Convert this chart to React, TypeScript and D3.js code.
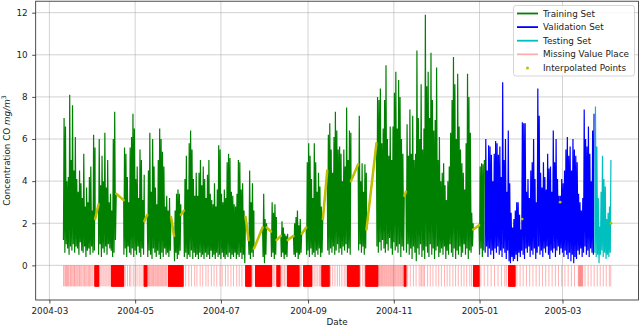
import * as d3 from 'd3';
import { useEffect, useRef } from 'react';

// hourly CO record, first and last timestamps
const FIRST_RECORD = Date.UTC(2004, 2, 10, 18);
const LAST_RECORD = Date.UTC(2005, 3, 4, 14);
const DAY_MS = 864e5;

// day offsets (from FIRST_RECORD) where each split begins
const trainStartDay = 0;
const valStartDay = 300;
const testStartDay = 378;

// daily peak / daily trough of CO (mg/m3); null = day fully interpolated
const trainHigh = [
  7.0, 6.6, 4.0, 4.2, 8.1, 5.0, 7.6, 4.5, 6.1, 4.1,
  3.5, 4.5, 3.9, 3.2, 5.3, 2.8, 3.7, 3.0, 4.2, 4.7,
  2.6, 6.2, 5.6, null, null, 6.0, 3.8, 5.2, 4.0, 6.3,
  3.7, 5.0, 3.0, 3.4, 2.6, 6.0, 7.3, 3.0, null, null,
  null, null, null, 5.6, 5.3, 4.2, 3.0, 5.6, 6.1, 7.2,
  6.5, 4.1, 4.7, 3.2, 5.5, 5.0, 3.1, 4.3, null, null,
  4.5, 6.3, 3.5, 6.0, 4.7, 3.7, 2.9, 5.0, 6.5, 6.0,
  5.4, 4.7, 2.8, 3.3, 2.6, 3.2, 2.2, null, null, 2.6,
  3.4, 3.6, 3.4, 2.9, null, null, 4.1, 5.2, 3.6, 5.8,
  6.4, 5.5, 4.1, 3.3, 4.4, 3.3, 4.4, 5.0, 3.8, 4.7,
  4.1, 3.2, 4.3, 5.0, 3.4, 3.1, 2.9, 3.9, 2.8, 3.6,
  5.7, 5.5, 3.4, 3.0, 3.6, 3.2, 4.9, 5.3, 5.1, 3.5,
  3.3, 2.9, 2.8, 3.4, 5.0, 4.9, 3.6, 3.9, 2.6, 2.2,
  null, null, 4.5, 3.0, 3.9, 2.6, null, null, null, null,
  null, null, 3.4, 2.2, 2.0, null, null, null, 3.0, 2.5,
  2.9, 2.3, null, null, null, 2.1, 1.8, 1.5, 1.4, 1.5,
  null, null, null, null, 2.0, 2.3, 2.6, 1.9, 2.2, 1.5,
  null, null, null, 4.9, 5.8, 5.2, 4.1, 3.2, 5.8, 4.9,
  3.5, 4.4, 3.75, 2.8, 2.2, null, null, null, 6.2, 6.75,
  5.5, 4.4, 6.1, 7.3, 6.4, 5.5, 5.65, 5.3, 4.0, 5.5,
  4.7, 7.5, 5.0, 6.4, 6.3, null, null, null, null, null,
  7.1, 4.0, 4.85, 3.5, 4.8, 4.4, null, null, null, null,
  null, null, null, 8.0, 7.85, 8.4, 5.8, 6.5, 7.85, 9.5,
  6.0, 5.2, 6.6, 5.0, 6.6, 8.2, 9.2, 6.5, 8.8, 8.0,
  6.0, 5.3, 3.3, null, 6.7, 5.2, 7.4, 5.3, 7.1, 5.0,
  5.3, 10.2, 7.0, 6.0, 8.6, 5.5, 6.5, 11.9, 8.5, 9.2,
  7.0, 10.1, 7.85, 6.4, 6.9, 9.4, 5.0, 6.1, 4.0, 4.4,
  4.85, 3.8, 3.1, 4.0, 4.7, 6.3, 7.85, 9.9, 8.6, 6.0,
  9.1, 6.6, 5.5, 4.85, 4.4, 3.6, 5.8, 9.1, 8.0, 6.3,
  2.5, 2.0, null, null, null, null, 4.7, 4.85, 4.8, 5.0,
];
const trainLow = [
  1.2, 0.6, 1.0, 0.8, 0.5, 0.9, 0.7, 1.0, 0.6, 0.9,
  0.8, 0.5, 1.1, 0.7, 0.6, 0.9, 0.4, 0.7, 0.8, 0.5,
  0.9, 0.6, 0.7, null, null, 0.5, 1.0, 0.4, 0.8, 0.6,
  0.9, 0.5, 1.0, 0.8, 0.7, 0.4, 0.6, 1.2, null, null,
  null, null, null, 0.5, 0.8, 0.4, 0.9, 0.6, 0.5, 0.8,
  0.4, 0.7, 0.5, 0.9, 0.6, 0.4, 0.8, 0.5, null, null,
  0.4, 0.7, 0.5, 0.3, 0.8, 0.6, 0.4, 0.7, 0.5, 0.3,
  0.6, 0.4, 0.8, 0.5, 0.6, 0.4, 0.7, null, null, 0.2,
  0.6, 0.3, 0.5, 0.7, null, null, 0.4, 0.6, 0.3, 0.5,
  0.4, 0.7, 0.3, 0.6, 0.4, 0.5, 0.3, 0.6, 0.4, 0.5,
  0.3, 0.6, 0.4, 0.5, 0.3, 0.7, 0.4, 0.5, 0.3, 0.6,
  0.4, 0.5, 0.3, 0.6, 0.4, 0.3, 0.5, 0.4, 0.6, 0.3,
  0.5, 0.4, 0.6, 0.3, 0.5, 0.4, 0.6, 0.3, 0.5, 0.1,
  null, null, 0.5, 0.3, 0.6, 0.4, null, null, null, null,
  null, null, 0.4, 0.1, 0.5, null, null, null, 0.4, 0.6,
  0.3, 0.5, null, null, null, 0.4, 0.6, 0.3, 0.5, 0.4,
  null, null, null, null, 0.5, 0.4, 0.6, 0.3, 0.5, 0.6,
  null, null, null, 0.5, 0.7, 0.4, 0.8, 0.5, 0.6, 0.4,
  0.7, 0.5, 0.8, 0.4, 0.6, null, null, null, 0.7, 0.5,
  0.8, 0.6, 0.9, 0.5, 0.7, 1.0, 0.6, 0.8, 0.5, 0.9,
  0.7, 1.0, 0.6, 0.8, 0.5, null, null, null, null, null,
  0.7, 1.0, 0.6, 0.9, 0.5, 0.8, null, null, null, null,
  null, null, null, 0.9, 0.6, 1.1, 0.7, 1.2, 0.8, 0.6,
  1.0, 0.7, 1.3, 0.8, 0.5, 1.1, 0.7, 0.9, 0.6, 1.0,
  0.4, 0.9, 0.7, null, 0.6, 1.0, 0.5, 0.8, 0.3, 0.9,
  0.6, 0.2, 0.8, 0.5, 1.0, 0.4, 0.7, 0.3, 0.9, 0.6,
  0.4, 1.0, 0.5, 0.8, 0.3, 0.7, 0.9, 0.4, 0.6, 0.8,
  0.5, 0.9, 0.3, 0.7, 0.5, 1.0, 0.6, 0.4, 0.8, 0.3,
  0.7, 0.5, 0.9, 0.4, 0.6, 1.0, 0.5, 0.8, 0.3, 0.7,
  0.6, 0.9, null, null, null, null, 0.5, 0.8, 0.4, 0.7,
];
const valHigh = [
  6.0, 4.5, 5.7, 5.65, 5.25, 4.0, 5.3, 5.9, 5.8, 5.25,
  5.65, 4.2, 8.7, 5.0, 6.0, 3.5, 6.4, 3.9, 2.5, 1.8,
  2.2, 2.6, 3.0, 3.0, 2.4, 1.7, 6.8, 6.75, 6.75, 3.5,
  4.1, 3.2, 4.5, 4.9, 6.0, 4.1, 3.0, 8.4, 7.1, 4.4,
  3.7, 4.9, 4.2, 3.6, 5.3, 4.6, 4.7, 3.5, 6.4, 4.9,
  6.0, 4.1, 3.3, 3.3, 4.1, 3.9, 4.5, 5.5, 6.1, 5.2,
  5.65, 4.5, 6.0, 5.5, 5.2, 4.9, 3.4, 3.0, 2.6, 3.2,
  7.4, 6.0, 5.65, 6.6, 5.3, 4.0, 6.4, 7.2,
];
const valLow = [
  0.6, 0.9, 0.4, 0.8, 0.5, 0.7, 0.3, 0.8, 0.6, 0.9,
  0.5, 0.7, 0.4, 0.8, 0.6, 0.3, 0.7, 0.2, 0.1, 0.4,
  0.2, 0.3, 0.5, 0.2, 0.6, 0.4, 0.7, 0.5, 0.3, 0.8,
  0.6, 0.9, 0.4, 0.7, 0.5, 0.8, 0.3, 0.6, 0.9, 0.5,
  0.7, 0.4, 0.8, 0.6, 0.9, 0.5, 0.3, 0.7, 0.6, 0.8,
  0.4, 0.7, 0.9, 0.5, 0.8, 0.6, 0.4, 0.7, 0.5, 0.3,
  0.6, 0.2, 0.5, 0.1, 0.4, 0.3, 0.7, 0.5, 0.8, 0.4,
  0.6, 0.9, 0.5, 0.7, 0.4, 0.8, 0.6, 0.5,
];
const testHigh = [7.55, 5.65, 3.2, 1.85, 3.5, 5.2, 4.1, 3.75, 2.2, 2.5, 2.8, 5.0];
const testLow = [0.6, 0.4, 0.5, 0.1, 0.5, 0.7, 0.4, 0.6, 0.3, 0.5, 0.4, 0.6];

// interpolated stretches: [from day, to day, value at start, value at end]
const interpGaps = [
  [22.8, 25.2, 2.2, 2.9],
  [37.8, 43.1, 3.4, 3.1],
  [57.8, 59.9, 2.1, 2.4],
  [76.8, 78.9, 2.3, 1.4],
  [83.8, 85.9, 2.4, 2.6],
  [129.8, 131.9, 2.3, 1.2],
  [135.8, 141.9, 0.8, 1.8],
  [144.8, 147.9, 1.8, 1.6],
  [151.8, 154.9, 1.2, 1.4],
  [159.8, 163.9, 1.2, 1.4],
  [169.8, 172.9, 1.5, 1.8],
  [184.8, 187.9, 2.2, 4.5],
  [204.8, 209.9, 4.0, 4.8],
  [215.8, 222.9, 1.7, 5.8],
  [242.8, 243.9, 3.3, 3.5],
  [291.8, 295.9, 1.7, 1.9],
];
// isolated interpolated hours that stick out of the line: [day, value]
const interpDots = [
  [326.6, 2.2],
  [353.6, 3.0],
  [389.8, 2.0],
];

// long runs of missing hours: [from day, to day]
const missingRuns = [
  [22.5, 25.5], [34.3, 43.2], [57.6, 59.7], [74.8, 85.5],
  [129.8, 133.8], [136.8, 148.5], [152.0, 154.4], [159.6, 167.9],
  [171.0, 177.0], [184.0, 189.4], [202.2, 210.7], [215.3, 224.0],
  [242.6, 244.0], [291.9, 296.0], [316.8, 321.6],
];
// single missing hours (day offsets)
const missingHours = [
  0.3, 1.2, 1.8, 2.4, 3.1, 3.7, 4.3, 5.2, 5.8, 6.5, 7.3, 8.1, 8.6, 9.4, 10.2,
  11.1, 11.7, 12.5, 13.3, 14.2, 15.0, 15.6, 16.4, 17.2, 18.1, 18.8, 19.6, 20.5, 21.3,
  26.2, 27.1, 28.3, 29.2, 30.4, 31.3, 32.5, 33.4,
  44.2, 45.8, 47.3, 48.2, 49.9, 51.3, 52.6, 54.1, 55.4, 56.8,
  60.2, 60.8, 61.5, 62.1, 62.9, 63.6, 64.3, 64.9, 65.7, 66.4, 67.2, 67.8, 68.5,
  69.3, 70.0, 70.7, 71.4, 72.2, 72.9, 73.5,
  87.2, 89.4, 91.3, 93.6, 95.2, 97.5, 99.3, 101.6, 103.2, 105.5, 107.4, 109.3,
  111.6, 113.2, 115.5, 117.3, 119.4, 121.2, 123.5, 125.3, 127.2,
  134.9, 149.5, 150.6, 155.3, 156.4, 157.5, 158.6, 168.6, 169.4,
  178.6, 179.9, 181.2, 182.5, 183.2,
  190.2, 191.8, 193.4, 195.1, 196.7, 198.3, 200.0, 201.2, 211.4, 213.2, 214.6,
  224.6, 225.2, 225.9, 226.5, 227.2, 227.8, 228.5, 229.1, 229.8, 230.4, 231.1,
  231.7, 232.4, 233.0, 233.7, 234.3, 235.0, 235.6, 236.3, 236.9, 237.6, 238.3,
  238.9, 239.6, 240.2, 240.9, 241.5, 242.1,
  245.1, 247.0, 249.2, 251.1, 253.3, 254.5, 255.2, 256.2, 257.1, 259.3, 261.2,
  263.1, 265.3, 267.2, 269.1, 271.3, 273.2, 275.1, 277.3, 279.2, 281.1, 283.3,
  285.2, 287.1, 289.3, 290.6,
  297.2, 299.6, 302.1, 304.5, 306.9, 309.4, 311.8, 314.2, 315.3,
  322.8, 325.1, 327.3, 329.6, 331.9, 334.2, 336.5, 338.8, 341.0, 343.3, 345.6,
  347.9, 350.2, 352.4, 354.7, 357.0, 359.3, 361.6, 363.8,
  366.5, 366.9, 367.3, 367.7, 368.1, 368.5, 368.9, 369.3, 369.7,
  371.3, 373.5, 375.6, 377.8, 380.0, 382.1, 384.3, 386.4, 388.6, 389.6,
];

const xTickLabels = ['2004-03', '2004-05', '2004-07', '2004-09', '2004-11', '2005-01', '2005-03'];
const yTickValues = [0, 2, 4, 6, 8, 10, 12];

const GREEN = '#008000';
const BLUE = '#0000ff';
const CYAN = '#00bfbf';
const RED = '#ff0000';
const OLIVE = '#bfbf00';
const FONT = "'DejaVu Sans', sans-serif";

const legendItems = [
  { label: 'Training Set', color: GREEN, kind: 'line', opacity: 1 },
  { label: 'Validation Set', color: BLUE, kind: 'line', opacity: 1 },
  { label: 'Testing Set', color: CYAN, kind: 'line', opacity: 1 },
  { label: 'Missing Value Place', color: RED, kind: 'line', opacity: 0.3 },
  { label: 'Interpolated Points', color: OLIVE, kind: 'dot', opacity: 1 },
];

const dayToDate = (d: number) => new Date(FIRST_RECORD + d * DAY_MS);

const buildSeries = (startDay: number, high: (number | null)[], low: (number | null)[]) => {
  const endDay = startDay + high.length;
  const pts: [number, number][] = [];
  high.forEach((h, i) => {
    if (h === null) return;
    pts.push([startDay + i + 0.25, low[i] as number], [startDay + i + 0.7, h]);
  });
  interpGaps.forEach(([d0, d1, v0, v1]) => {
    if (d0 >= startDay && d1 <= endDay) pts.push([d0, v0], [d1, v1]);
  });
  return pts.sort((a, b) => a[0] - b[0]);
};

const App = () => {
  const svgRef = useRef<SVGSVGElement>(null);

  useEffect(() => {
    const svg = d3.select(svgRef.current);
    svg.selectAll('*').remove();

    const svgWidth = 640;
    const svgHeight = 328;
    const margin = { top: 1.2, right: 1.5, bottom: 28, left: 35.7 };
    const left = margin.left;
    const right = svgWidth - margin.right;
    const top = margin.top;
    const bottom = svgHeight - margin.bottom;

    const span = LAST_RECORD - FIRST_RECORD;
    const x = d3.scaleUtc()
      .domain([new Date(FIRST_RECORD - 0.05 * span), new Date(LAST_RECORD + 0.05 * span)])
      .range([left, right]);

    const allHigh = [...trainHigh, ...valHigh, ...testHigh].filter(v => v !== null) as number[];
    const yMin = -1;
    const yMax = d3.max(allHigh) as number;
    const pad = 0.05 * (yMax - yMin);
    const y = d3.scaleLinear().domain([yMin - pad, yMax + pad]).range([bottom, top]);

    const xTicks = xTickLabels.map(s => new Date(s + '-01T00:00:00Z'));

    // grid
    const grid = svg.append('g');
    grid.selectAll('.vgrid').data(xTicks).enter().append('line')
      .attr('x1', d => x(d)).attr('x2', d => x(d))
      .attr('y1', top).attr('y2', bottom)
      .attr('stroke', '#b0b0b0').attr('stroke-width', 0.8).attr('opacity', 0.7);
    grid.selectAll('.hgrid').data(yTickValues).enter().append('line')
      .attr('x1', left).attr('x2', right)
      .attr('y1', d => y(d)).attr('y2', d => y(d))
      .attr('stroke', '#b0b0b0').attr('stroke-width', 0.8).attr('opacity', 0.7);

    const line = d3.line<[number, number]>()
      .x(p => x(dayToDate(p[0])))
      .y(p => y(p[1]));

    const sets = [
      { start: trainStartDay, high: trainHigh, low: trainLow, color: GREEN },
      { start: valStartDay, high: valHigh, low: valLow, color: BLUE },
      { start: testStartDay, high: testHigh, low: testLow, color: CYAN },
    ];
    sets.forEach(s => {
      svg.append('path')
        .attr('d', line(buildSeries(s.start, s.high, s.low)))
        .attr('fill', 'none')
        .attr('stroke', s.color)
        .attr('stroke-width', 1.2)
        .attr('stroke-linejoin', 'miter');
    });

    // missing value places: one vertical tick per missing hour, from -1 to 0
    const hours: number[] = [...missingHours];
    missingRuns.forEach(([d0, d1]) => {
      for (let d = d0; d <= d1; d += 1 / 24) hours.push(d);
    });
    svg.append('g').selectAll('line').data(hours).enter().append('line')
      .attr('x1', d => x(dayToDate(d))).attr('x2', d => x(dayToDate(d)))
      .attr('y1', y(-1)).attr('y2', y(0))
      .attr('stroke', RED).attr('stroke-width', 1).attr('stroke-opacity', 0.3);

    // interpolated points
    const interp = svg.append('g');
    interp.selectAll('line').data(interpGaps).enter().append('line')
      .attr('x1', d => x(dayToDate(d[0]))).attr('y1', d => y(d[2]))
      .attr('x2', d => x(dayToDate(d[1]))).attr('y2', d => y(d[3]))
      .attr('stroke', OLIVE).attr('stroke-width', 2.5).attr('stroke-linecap', 'round');
    interp.selectAll('circle').data(interpDots).enter().append('circle')
      .attr('cx', d => x(dayToDate(d[0]))).attr('cy', d => y(d[1]))
      .attr('r', 1.4).attr('fill', OLIVE);

    // axes
    const xAxis = svg.append('g')
      .attr('transform', `translate(0, ${bottom})`)
      .call(d3.axisBottom(x).tickValues(xTicks).tickFormat(d3.utcFormat('%Y-%m') as any)
        .tickSize(3.5).tickPadding(4.5));
    const yAxis = svg.append('g')
      .attr('transform', `translate(${left}, 0)`)
      .call(d3.axisLeft(y).tickValues(yTickValues).tickSize(3.5).tickPadding(4.5));
    [xAxis, yAxis].forEach(g => {
      g.select('.domain').remove();
      g.selectAll('line').attr('stroke', '#222').attr('stroke-width', 0.8);
      g.selectAll('text').attr('fill', '#222').style('font-family', FONT).style('font-size', '8.8px');
    });

    // frame
    svg.append('rect')
      .attr('x', left).attr('y', top)
      .attr('width', right - left).attr('height', bottom - top)
      .attr('fill', 'none').attr('stroke', '#222').attr('stroke-width', 0.8);

    // axis labels
    svg.append('text')
      .attr('x', (left + right) / 2).attr('y', 325)
      .attr('text-anchor', 'middle')
      .style('font-family', FONT).style('font-size', '8.8px').attr('fill', '#222')
      .text('Date');
    const yl = svg.append('text')
      .attr('transform', `translate(9.5, ${(top + bottom) / 2}) rotate(-90)`)
      .attr('text-anchor', 'middle')
      .style('font-family', FONT).style('font-size', '8.8px').attr('fill', '#222');
    yl.append('tspan').text('Concentration CO ');
    yl.append('tspan').style('font-style', 'italic').text('mg/m');
    yl.append('tspan').attr('dy', -3.5).style('font-size', '6.2px').text('3');

    // legend
    const lg = svg.append('g').attr('transform', 'translate(513.5, 5.5)');
    lg.append('rect')
      .attr('width', 121).attr('height', 70.5).attr('rx', 2.5)
      .attr('fill', 'white').attr('fill-opacity', 0.8)
      .attr('stroke', '#cccccc').attr('stroke-width', 0.8);
    legendItems.forEach((item, i) => {
      const cy = 8 + i * 13.6;
      if (item.kind === 'line') {
        lg.append('line')
          .attr('x1', 3.5).attr('x2', 24.5).attr('y1', cy).attr('y2', cy)
          .attr('stroke', item.color).attr('stroke-opacity', item.opacity).attr('stroke-width', 1.8);
      } else {
        lg.append('circle').attr('cx', 14).attr('cy', cy).attr('r', 1.5).attr('fill', item.color);
      }
      lg.append('text')
        .attr('x', 29.5).attr('y', cy).attr('dy', '0.35em')
        .style('font-family', FONT).style('font-size', '8.8px').attr('fill', '#222')
        .text(item.label);
    });
  }, []);

  return (
    <svg ref={svgRef} width={640} height={328}
      style={{ position: 'absolute', left: 0, top: 0, background: 'white' }} />
  );
};

export default App;
